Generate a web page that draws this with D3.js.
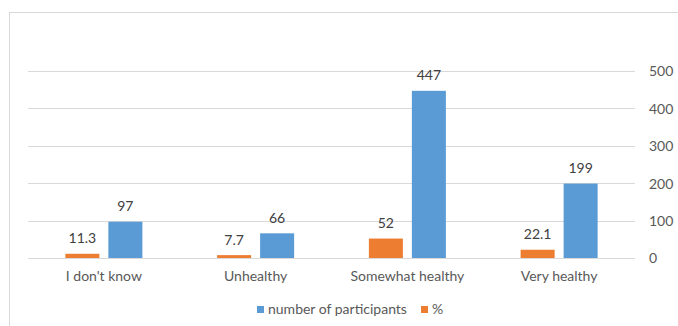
<!DOCTYPE html>
<html>
<head>
<meta charset="utf-8">
<script src="https://cdn.jsdelivr.net/npm/d3@7"></script>
<style>
  html, body { margin: 0; padding: 0; background: #fff; }
  svg { display: block; }
  text { font-family: Lato, "Open Sans", sans-serif; }
</style>
</head>
<body>
<div id="chart"></div>
<script>
const categories = ["I don't know", "Unhealthy", "Somewhat healthy", "Very healthy"];
const seriesNames = ["%", "number of participants"];
const percentValues = [11.3, 7.7, 52, 22.1];
const participantValues = [97, 66, 447, 199];
const percentLabels = ["11.3", "7.7", "52", "22.1"];
const participantLabels = ["97", "66", "447", "199"];
const yTicks = [0, 100, 200, 300, 400, 500];
const legendOrder = ["number of participants", "%"];
const colors = { "%": "#ED7D31", "number of participants": "#5B9BD5" };

const W = 678, H = 326;
const FS = "14px";
const svg = d3.select("#chart").append("svg").attr("width", W).attr("height", H);

// outer chart border
svg.append("rect").attr("x", 9.5).attr("y", 12.5).attr("width", 720).attr("height", 400)
  .attr("fill", "#fff").attr("stroke", "#D9D9D9").attr("stroke-width", 1);

const plotL = 28, plotR = 635, y0 = 258, yTop = 71;
const x0 = d3.scaleBand().domain(categories).range([plotL, plotR]).paddingInner(0).paddingOuter(0);
const x1 = d3.scaleBand().domain(seriesNames).range([0, x0.bandwidth()]).paddingInner(0.209).paddingOuter(0.869);
const y = d3.scaleLinear().domain([0, 500]).range([y0, yTop]);

// gridlines
svg.append("g").selectAll("line").data(yTicks).join("line")
  .attr("x1", plotL).attr("x2", plotR)
  .attr("y1", d => Math.round(y(d)) + 0.5).attr("y2", d => Math.round(y(d)) + 0.5)
  .attr("stroke", "#D9D9D9").attr("stroke-width", 1);

// right axis
const axis = d3.axisRight(y).tickValues(yTicks).tickSize(0).tickPadding(0);
const ag = svg.append("g").attr("transform", `translate(${plotR + 14},0)`).call(axis);
ag.select(".domain").remove();
ag.selectAll("text").attr("fill", "#595959").style("font-size", FS).attr("dy", "0.35em").attr("x", 0);

const rows = categories.map((c, i) => ({
  cat: c,
  vals: [
    { s: "%", v: percentValues[i], lab: percentLabels[i] },
    { s: "number of participants", v: participantValues[i], lab: participantLabels[i] }
  ]
}));

const groups = svg.append("g").selectAll("g").data(rows).join("g")
  .attr("transform", d => `translate(${x0(d.cat)},0)`);

groups.selectAll("rect").data(d => d.vals).join("rect")
  .attr("x", d => x1(d.s)).attr("width", x1.bandwidth())
  .attr("y", d => y(d.v)).attr("height", d => y0 - y(d.v))
  .attr("fill", d => colors[d.s]);

groups.selectAll("text").data(d => d.vals).join("text")
  .attr("x", d => x1(d.s) + x1.bandwidth() / 2)
  .attr("y", d => y(d.v) - 10.5)
  .attr("text-anchor", "middle")
  .attr("fill", "#404040").style("font-size", FS)
  .text(d => d.lab);

// category axis labels
svg.append("g").selectAll("text").data(categories).join("text")
  .attr("x", d => x0(d) + x0.bandwidth() / 2).attr("y", 281)
  .attr("text-anchor", "middle").attr("fill", "#595959").style("font-size", FS)
  .text(d => d);

// legend
const legendX = { "number of participants": 257, "%": 421 };
const lg = svg.append("g").selectAll("g").data(legendOrder).join("g")
  .attr("transform", d => `translate(${legendX[d]},0)`);
lg.append("rect").attr("x", 0).attr("y", 306).attr("width", 7).attr("height", 7)
  .attr("fill", d => colors[d]);
lg.append("text").attr("x", 11).attr("y", 314).attr("fill", "#595959").style("font-size", FS)
  .text(d => d);
</script>
</body>
</html>
